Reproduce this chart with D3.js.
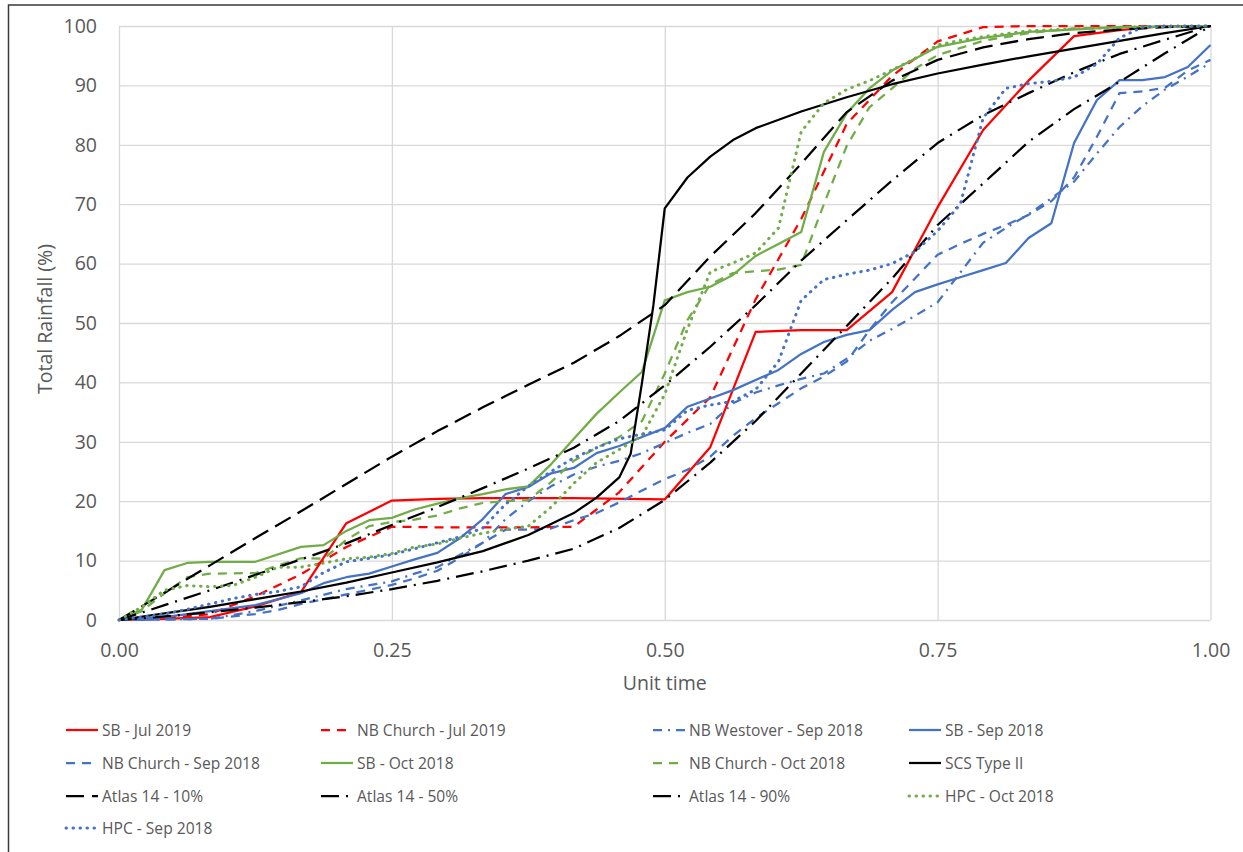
<!DOCTYPE html>
<html>
<head>
<meta charset="utf-8">
<script src="https://cdn.jsdelivr.net/npm/d3@7"></script>
<style>
  html, body { margin: 0; padding: 0; background: #ffffff; }
  svg { display: block; }
  text { font-family: "Open Sans", "Liberation Sans", sans-serif; fill: #595959; }
</style>
</head>
<body>
<svg id="chart" width="1243" height="852"></svg>
<script>
// ---------- DATA (unit time, cumulative % of total rainfall) ----------
const xTickValues = [0, 0.25, 0.5, 0.75, 1];
const yTickValues = [0, 10, 20, 30, 40, 50, 60, 70, 80, 90, 100];

const sbJul2019 = [[0,0],[0.0417,0.2],[0.0833,0.5],[0.125,2.3],[0.1667,4.7],[0.2083,16.3],[0.25,20.1],[0.2917,20.4],[0.3333,20.5],[0.4167,20.5],[0.5,20.3],[0.5417,29.1],[0.5833,48.5],[0.625,48.8],[0.6667,48.8],[0.7083,55.2],[0.75,69.5],[0.7917,82.5],[0.8333,90.8],[0.875,98.3],[0.9167,99.3],[0.9583,100],[1,100]];

const nbChurchJul2019 = [[0,0],[0.0417,0.3],[0.0833,1.0],[0.125,4.0],[0.1667,7.7],[0.2083,12.3],[0.25,15.7],[0.2917,15.6],[0.3333,15.6],[0.375,15.6],[0.4167,15.7],[0.4583,21.5],[0.5,30.0],[0.5417,37.5],[0.5833,54.0],[0.625,67.5],[0.6667,83.5],[0.7083,91.6],[0.75,97.4],[0.7917,99.8],[0.8333,100],[1,100]];

const nbWestoverSep2018 = [[0,0],[0.0833,0.2],[0.125,1.5],[0.1667,3.3],[0.2083,5.2],[0.25,6.5],[0.2708,7.8],[0.2917,8.9],[0.3125,11.0],[0.3333,13.0],[0.3542,17.0],[0.375,20.0],[0.3958,22.5],[0.4167,24.5],[0.4375,25.8],[0.4583,26.8],[0.4792,28.1],[0.5,29.8],[0.5208,31.5],[0.5417,33.0],[0.5625,36.5],[0.5833,38.3],[0.6042,39.5],[0.625,40.6],[0.6458,41.5],[0.6667,44.0],[0.6875,47.0],[0.7083,49.0],[0.7292,51.2],[0.75,53.5],[0.7708,58.5],[0.7917,63.5],[0.8125,66.0],[0.8333,68.3],[0.8542,71.0],[0.875,73.8],[0.8958,78.5],[0.9167,83.0],[0.9375,86.5],[0.9583,89.3],[0.9792,91.5],[1,93.8]];

const sbSep2018 = [[0,0],[0.0417,0.5],[0.0833,1.5],[0.125,2.5],[0.1667,4.5],[0.1875,6.2],[0.2083,7.2],[0.2292,7.8],[0.25,9.0],[0.2708,10.2],[0.2917,11.3],[0.3125,13.8],[0.3333,17.0],[0.3542,21.2],[0.375,22.4],[0.3958,24.7],[0.4167,25.6],[0.4375,28.1],[0.4583,29.3],[0.4792,30.8],[0.5,32.3],[0.5208,35.9],[0.5417,37.3],[0.5625,38.7],[0.5833,40.4],[0.6042,42.1],[0.625,44.8],[0.6458,46.8],[0.6667,48.0],[0.6875,48.8],[0.7083,52.2],[0.7292,55.2],[0.75,56.5],[0.7708,57.7],[0.7917,58.9],[0.8125,60.1],[0.8333,64.3],[0.8542,66.8],[0.875,80.3],[0.8958,87.5],[0.9167,90.9],[0.9375,90.9],[0.9583,91.4],[0.9792,93.1],[1,96.8]];

const nbChurchSep2018 = [[0,0],[0.0833,0.2],[0.125,1.0],[0.1458,1.7],[0.1667,2.7],[0.2083,4.3],[0.25,5.9],[0.2708,7.0],[0.2917,8.3],[0.3125,10.5],[0.3333,13.0],[0.3542,15.2],[0.375,15.2],[0.3958,15.4],[0.4167,16.8],[0.4375,18.0],[0.4583,19.8],[0.4792,21.8],[0.5,23.7],[0.5208,25.3],[0.5417,27.5],[0.5625,31.0],[0.5833,34.0],[0.6042,36.5],[0.625,39.0],[0.6458,41.0],[0.6667,43.5],[0.6875,48.8],[0.7083,53.5],[0.7292,57.5],[0.75,61.5],[0.7708,63.3],[0.7917,65.0],[0.8125,66.5],[0.8333,68.2],[0.8542,70.5],[0.875,74.5],[0.8958,81.3],[0.9167,88.7],[0.9375,89.0],[0.9583,89.6],[0.9792,92.5],[1,94.3]];

const sbOct2018 = [[0,0],[0.0208,1.7],[0.0417,8.4],[0.0625,9.6],[0.0833,9.8],[0.125,9.8],[0.1667,12.3],[0.1875,12.6],[0.2083,15.0],[0.2292,16.8],[0.25,17.2],[0.2708,18.6],[0.2917,19.6],[0.3125,20.5],[0.3333,21.2],[0.3542,22.0],[0.375,22.5],[0.3958,26.2],[0.4167,30.5],[0.4375,34.7],[0.4583,38.3],[0.4792,41.8],[0.5,53.8],[0.5208,55.2],[0.5417,56.1],[0.5625,58.1],[0.5833,61.3],[0.6042,63.3],[0.625,65.3],[0.6458,78.8],[0.6667,85.3],[0.6875,89.5],[0.7083,92.5],[0.7292,94.5],[0.75,96.5],[0.7917,98.0],[0.8333,99.0],[0.9167,99.8],[1,100]];

const nbChurchOct2018 = [[0,0],[0.0208,1.5],[0.0417,4.5],[0.0625,7.2],[0.0833,7.8],[0.125,7.9],[0.1458,9.2],[0.1667,10.4],[0.1875,10.3],[0.2083,13.5],[0.2292,15.8],[0.25,16.5],[0.2708,16.9],[0.2917,17.6],[0.3125,18.8],[0.3333,19.7],[0.3542,20.0],[0.375,20.2],[0.3958,23.2],[0.4167,26.8],[0.4375,29.0],[0.4583,30.8],[0.4792,33.5],[0.5,41.5],[0.5208,50.5],[0.5417,56.5],[0.5625,58.4],[0.5833,58.7],[0.6042,59.0],[0.625,59.8],[0.6458,70.0],[0.6667,79.8],[0.6875,86.3],[0.7083,89.5],[0.7292,92.8],[0.75,95.1],[0.7917,97.5],[0.8333,98.8],[0.875,99.6],[1,100]];

const scsTypeII = [[0,0],[0.0417,1.1],[0.0833,2.2],[0.125,3.5],[0.1667,4.8],[0.2083,6.3],[0.25,8.0],[0.2917,9.7],[0.3333,11.6],[0.375,14.3],[0.4167,18.0],[0.4375,20.6],[0.4583,24.0],[0.4688,28.0],[0.4792,40.0],[0.4896,53.0],[0.5,69.3],[0.5208,74.5],[0.5417,78.0],[0.5625,80.8],[0.5833,82.8],[0.625,85.6],[0.6667,88.0],[0.7083,90.2],[0.75,92.0],[0.7917,93.5],[0.8333,94.9],[0.875,96.2],[0.9167,97.5],[0.9583,98.8],[1,100]];

const atlasTime = [0,0.0417,0.0833,0.125,0.1667,0.2083,0.25,0.2917,0.3333,0.375,0.4167,0.4583,0.5,0.5417,0.5833,0.625,0.6667,0.7083,0.75,0.7917,0.8333,0.875,0.9167,0.9583,1];
const atlas10 = [0,4.6,9.2,13.8,18.3,22.9,27.5,31.8,35.8,39.6,43.3,47.8,53.0,61.2,68.5,76.8,85.5,90.8,94.3,96.4,97.8,98.8,99.4,99.8,100];
const atlas50 = [0,2.5,5.0,7.6,10.2,12.9,16.0,19.0,22.2,25.5,29.0,33.5,39.5,46.0,53.0,60.5,67.3,74.0,80.3,85.0,88.7,92.2,95.3,97.7,100];
const atlas90 = [0,0.6,1.3,2.1,3.0,4.0,5.2,6.6,8.2,10.0,12.0,15.5,20.2,26.5,33.5,41.5,49.5,57.5,66.5,73.5,80.5,86.0,90.6,95.4,100];

const hpcOct2018 = [[0,0],[0.0208,2.2],[0.0417,5.0],[0.0625,5.8],[0.0833,5.6],[0.1042,5.8],[0.125,7.2],[0.1458,8.9],[0.1667,8.9],[0.1875,9.6],[0.2083,10.3],[0.2292,10.6],[0.25,11.2],[0.2708,12.3],[0.2917,12.8],[0.3125,13.8],[0.3333,14.6],[0.3542,15.3],[0.375,15.8],[0.3958,19.0],[0.4167,23.0],[0.4375,26.5],[0.4583,28.7],[0.4792,31.0],[0.5,38.0],[0.5208,49.0],[0.5417,58.6],[0.5625,60.1],[0.5833,61.8],[0.6042,66.0],[0.625,82.2],[0.6458,87.0],[0.6667,89.3],[0.6875,90.8],[0.7083,92.6],[0.7292,94.5],[0.75,96.8],[0.7708,97.6],[0.7917,98.2],[0.8333,99.2],[0.9167,99.8],[1,100]];

const hpcSep2018 = [[0,0],[0.0208,0.5],[0.0417,1.0],[0.0625,1.8],[0.0833,2.7],[0.1042,3.6],[0.125,4.3],[0.1458,4.8],[0.1667,5.6],[0.1875,8.0],[0.2083,9.8],[0.2292,10.4],[0.25,11.0],[0.2708,12.0],[0.2917,13.0],[0.3125,14.0],[0.3333,15.5],[0.3542,19.5],[0.375,22.5],[0.3958,25.0],[0.4167,27.3],[0.4375,29.0],[0.4583,30.5],[0.4792,31.3],[0.5,32.0],[0.5208,35.3],[0.5417,36.2],[0.5625,36.8],[0.5833,38.8],[0.6042,43.5],[0.625,53.8],[0.6458,57.3],[0.6667,58.2],[0.6875,58.9],[0.7083,60.0],[0.7292,62.0],[0.75,65.5],[0.7708,70.0],[0.7917,84.5],[0.8125,89.5],[0.8333,90.3],[0.8542,90.7],[0.875,91.4],[0.8958,93.6],[0.9167,98.0],[0.9375,99.8],[0.9583,100],[1,100]];

const seriesNames = ["SB - Jul 2019","NB Church - Jul 2019","NB Westover - Sep 2018","SB - Sep 2018",
  "NB Church - Sep 2018","SB - Oct 2018","NB Church - Oct 2018","SCS Type II",
  "Atlas 14 - 10%","Atlas 14 - 50%","Atlas 14 - 90%","HPC - Oct 2018","HPC - Sep 2018"];

// ---------- STYLES ----------
const RED = "#FF0000", BLUE = "#4472C4", GREEN = "#70AD47", BLACK = "#000000";
const styles = {
  "solid":     {dash: null, width: 2.25, cap: "butt"},
  "dash":      {dash: "9,7", width: 2.25, cap: "butt"},
  "longdash":  {dash: "18,8", width: 2.25, cap: "butt"},
  "ldashdot":  {dash: "18,7,2,7", width: 2.25, cap: "butt"},
  "dashdot":   {dash: "9,6,2,6", width: 2.25, cap: "butt"},
  "dot":       {dash: "0.5,6.5", width: 3, cap: "round"}
};

const toPairs = (t, v) => t.map((d, i) => [d, v[i]]);
const seriesData = [sbJul2019, nbChurchJul2019, nbWestoverSep2018, sbSep2018, nbChurchSep2018,
  sbOct2018, nbChurchOct2018, scsTypeII, toPairs(atlasTime, atlas10), toPairs(atlasTime, atlas50),
  toPairs(atlasTime, atlas90), hpcOct2018, hpcSep2018];
const seriesColor = [RED, RED, BLUE, BLUE, BLUE, GREEN, GREEN, BLACK, BLACK, BLACK, BLACK, GREEN, BLUE];
const seriesStyle = ["solid","dash","dashdot","solid","dash","solid","dash","solid","longdash","ldashdot","ldashdot","dot","dot"];

const series = seriesNames.map((name, i) => ({
  name, data: seriesData[i], color: seriesColor[i], style: styles[seriesStyle[i]]
}));

// ---------- LAYOUT ----------
const svg = d3.select("#chart");
const plot = {left: 119, right: 1210.5, top: 26, bottom: 620};
const x = d3.scaleLinear().domain([0, 1]).range([plot.left, plot.right]);
const y = d3.scaleLinear().domain([0, 100]).range([plot.bottom, plot.top]);

// chart border (left and top edges visible)
svg.append("rect").attr("x", 8.5).attr("y", 5).attr("width", 1400).attr("height", 1000)
  .attr("fill", "none").attr("stroke", "#3a3a3a").attr("stroke-width", 1.5);

// gridlines + axes
const yAxis = d3.axisLeft(y).tickValues(yTickValues).tickSize(-(plot.right - plot.left)).tickPadding(22)
  .tickFormat(d3.format("d"));
const gy = svg.append("g").attr("transform", `translate(${plot.left},0)`).call(yAxis);
gy.select(".domain").remove();
gy.selectAll("line").attr("stroke", "#d9d9d9").attr("stroke-width", 1.3);
gy.selectAll("text").style("font-size", "19.5px").attr("fill", "#595959");

const xAxis = d3.axisBottom(x).tickValues(xTickValues).tickSize(-(plot.bottom - plot.top)).tickPadding(23)
  .tickFormat(d3.format(".2f"));
const gx = svg.append("g").attr("transform", `translate(0,${plot.bottom})`).call(xAxis);
gx.select(".domain").remove();
gx.selectAll("line").attr("stroke", "#d9d9d9").attr("stroke-width", 1.3);
gx.selectAll("text").style("font-size", "19.5px").attr("fill", "#595959");

// axis titles
svg.append("text").attr("x", (plot.left + plot.right) / 2).attr("y", 690)
  .attr("text-anchor", "middle").style("font-size", "19.5px").text("Unit time");
svg.append("text").attr("transform", `translate(52,${(plot.top + plot.bottom) / 2 - 4}) rotate(-90)`)
  .attr("text-anchor", "middle").style("font-size", "19.5px").text("Total Rainfall (%)");

// lines
const line = d3.line().x(d => x(d[0])).y(d => y(d[1]));
const gl = svg.append("g");
series.forEach(s => {
  gl.append("path").attr("d", line(s.data)).attr("fill", "none")
    .attr("stroke", s.color).attr("stroke-width", s.style.width)
    .attr("stroke-dasharray", s.style.dash).attr("stroke-linecap", s.style.cap)
    .attr("stroke-linejoin", "round");
});

// legend
const legendCols = [66, 321, 653, 909];
const legendRows = [730, 763, 796, 828];
const lg = svg.append("g");
series.forEach((s, i) => {
  const cx = legendCols[i % 4], cy = legendRows[Math.floor(i / 4)];
  lg.append("line").attr("x1", cx).attr("x2", cx + 32).attr("y1", cy).attr("y2", cy)
    .attr("stroke", s.color).attr("stroke-width", s.style.width)
    .attr("stroke-dasharray", s.style.dash).attr("stroke-linecap", s.style.cap);
  lg.append("text").attr("x", cx + 36).attr("y", cy).attr("dy", "0.36em")
    .style("font-size", "15.6px").text(s.name);
});
</script>
</body>
</html>
